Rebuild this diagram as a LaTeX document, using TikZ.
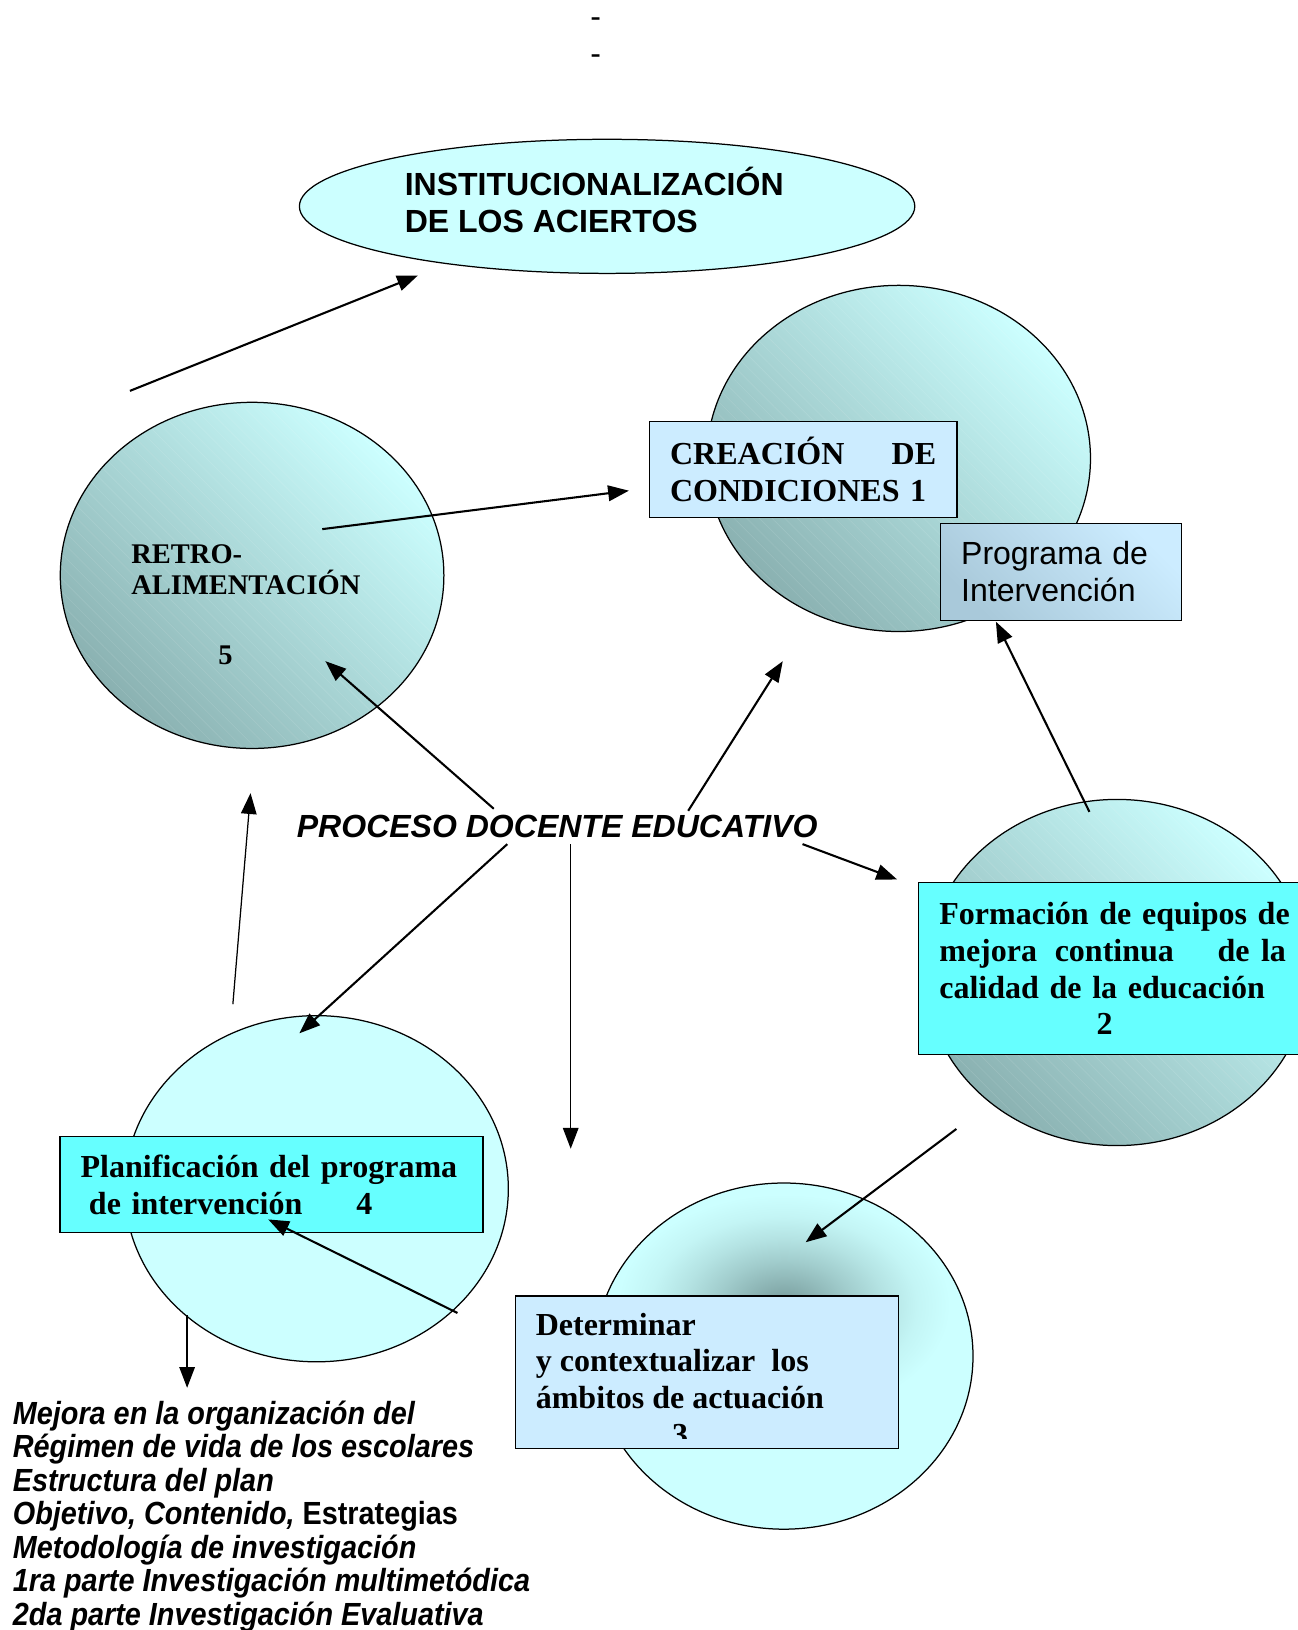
\documentclass[tikz,border=0pt]{standalone}
\usepackage{fontspec}
\setmainfont{Liberation Serif}
\setsansfont{Liberation Sans}
\newfontfamily\listfont{Liberation Sans}[FakeStretch=0.9]
\usetikzlibrary{shapes.geometric,arrows.meta,patterns.meta}
\definecolor{cyanlt}{HTML}{CCFFFF}
\definecolor{tealdk}{HTML}{8AB1B1}
\definecolor{boxblue}{HTML}{CCECFF}
\definecolor{boxcyan}{HTML}{66FFFF}
\definecolor{progdk}{HTML}{A9C9DA}
\definecolor{detdk}{HTML}{769A9A}
\pgfdeclareradialshading{detglow}{\pgfpoint{0bp}{0bp}}{color(0bp)=(detdk); color(2.5bp)=(detdk!75!cyanlt); color(5bp)=(detdk!50!cyanlt); color(7.5bp)=(detdk!28!cyanlt); color(10bp)=(detdk!10!cyanlt); color(12.5bp)=(cyanlt); color(50bp)=(cyanlt)}
\newcommand{\basefs}{\fontsize{15.4pt}{17.75pt}\selectfont}
\begin{document}
\begin{tikzpicture}[x=0.5pt,y=-0.5pt,
 bubble/.style={ellipse,draw,line width=0.6pt,inner sep=0pt,minimum width=184.5pt,minimum height=166.5pt},
 hatched/.style={top color=cyanlt,bottom color=tealdk,shading angle=-45,
   path picture={\fill[pattern={Lines[angle=-45,distance=4.3pt,line width=0.3pt]},pattern color=white,opacity=0.1]
     (path picture bounding box.south west) rectangle (path picture bounding box.north east);}},
 box/.style={draw,line width=0.6pt,anchor=north west,inner xsep=10pt,inner ysep=0pt,align=left},
 txt/.style={align=left,inner sep=0pt,anchor=west},
 arr/.style={-{Triangle[length=10pt,width=7.5pt]},line width=1pt},
 tarr/.style={arr,line width=0.6pt}]
 \useasboundingbox (0,0) rectangle (1248,1568);
 % dashes on top
 \node[font=\basefs\sffamily] (dasha) at (573,22) {-};
 \node[font=\basefs\sffamily] (dashb) at (573,57) {-};
 % the five bubbles and the top one
 \node[bubble,fill=cyanlt,minimum width=296pt,minimum height=64.5pt] (inst) at (584,198.5) {};
 \node[txt,font=\basefs\sffamily\bfseries] (insttxt) at (389,192.5) {INSTITUCIONALIZACIÓN\\DE LOS ACIERTOS};
 \node[bubble,hatched] (crea) at (864.5,441) {};
 \node[bubble,hatched] (retro) at (242.5,553.5) {};
 \node[bubble,hatched] (forma) at (1074.5,935.5) {};
 \node[bubble,fill=cyanlt,minimum width=182pt,
   path picture={\shade[shading=detglow] ([xshift=-160pt,yshift=-68.25pt]path picture bounding box.center) rectangle ([xshift=160pt,yshift=131.75pt]path picture bounding box.center);}] (deter) at (754,1304.5) {};
 \node[bubble,fill=cyanlt] (plan) at (304.5,1143.5) {};
 % boxes
 \node[box,fill=boxblue,text width=128pt,minimum height=46pt,font=\basefs\bfseries] (creabox) at (624,405) {CREACIÓN\hfill DE\\CONDICIONES 1};
 \node[box,top color=boxblue,bottom color=progdk,shading angle=-45,text width=96pt,minimum height=46.5pt,font=\basefs\sffamily] (progbox) at (904,503) {Programa de\\Intervención};
 \node[box,fill=boxcyan,text width=172pt,minimum height=83pt,font=\basefs\bfseries] (formabox) at (883,848) {Formación de equipos de\\mejora\hspace{8.5pt}continua\hspace{21pt}de\hspace{5.5pt}la\\calidad de la educación\\\hspace*{75.6pt}2};
 \node[box,fill=boxcyan,text width=183.5pt,minimum height=46pt,font=\basefs\bfseries] (planbox) at (57,1093) {Planificación del programa\\\hspace*{4pt}de intervención\hspace{26pt}4};
 \node[box,fill=boxblue,minimum width=184.5pt,minimum height=73.5pt] (deterbox) at (495,1246) {};
 \begin{scope}
  \clip (495,1246) rectangle (864,1384);
  \node[txt,font=\basefs\bfseries] (detertxt) at (515,1327) {Determinar\\y contextualizar\ \ los\\ámbitos de actuación\\\hspace*{65.6pt}3};
 \end{scope}
 % texts
 \node[txt,font=\fontsize{13.7pt}{15pt}\selectfont\bfseries] (retrotxt) at (126,548) {RETRO-\\ALIMENTACIÓN};
 \node[font=\fontsize{13.7pt}{15pt}\selectfont\bfseries,inner sep=0pt] (retronum) at (217,630) {5};
 \node[font=\basefs\sffamily\bfseries\itshape,inner sep=0pt] (proceso) at (536,795) {PROCESO DOCENTE EDUCATIVO};
 \node[txt,font=\fontsize{15.4pt}{16.1pt}\selectfont\listfont\bfseries\itshape] (mejora) at (12,1458.5) {Mejora en la organización del\\Régimen de vida de los escolares\\Estructura del plan\\Objetivo, Contenido, {\upshape Estrategias}\\Metodología de investigación\\1ra parte Investigación multimetódica\\2da parte Investigación Evaluativa};
 % arrow ends
 \coordinate (a1) at (125,376);  \coordinate (b1) at (402,265);
 \coordinate (a2) at (310,509);  \coordinate (b2) at (605,472);
 \coordinate (a3) at (475,778);  \coordinate (b3) at (313,636);
 \coordinate (a4) at (662,780);  \coordinate (b4) at (753,636);
 \coordinate (a5) at (1048,781); \coordinate (b5) at (958,598);
 \coordinate (a6) at (772,812);  \coordinate (b6) at (863,846);
 \coordinate (a7) at (488,812);  \coordinate (b7) at (288,994);
 \coordinate (a8) at (549,812);  \coordinate (b8) at (549,1105);
 \coordinate (a9) at (224,966);  \coordinate (b9) at (241,763);
 \coordinate (a10) at (920,1086); \coordinate (b10) at (775,1195);
 \coordinate (a11) at (440,1263); \coordinate (b11) at (258,1173);
 \coordinate (a12) at (180,1265); \coordinate (b12) at (180,1335);
 % arrows
 \draw[arr] (a1) -- (b1);
 \draw[arr] (a2) -- (b2);
 \draw[arr] (a3) -- (b3);
 \draw[arr] (a4) -- (b4);
 \draw[arr] (a5) -- (b5);
 \draw[arr] (a6) -- (b6);
 \draw[arr] (a7) -- (b7);
 \draw[tarr] (a8) -- (b8);
 \draw[tarr] (a9) -- (b9);
 \draw[arr] (a10) -- (b10);
 \draw[arr] (a11) -- (b11);
 \draw[tarr] (a12) -- (b12);
\end{tikzpicture}
\end{document}
